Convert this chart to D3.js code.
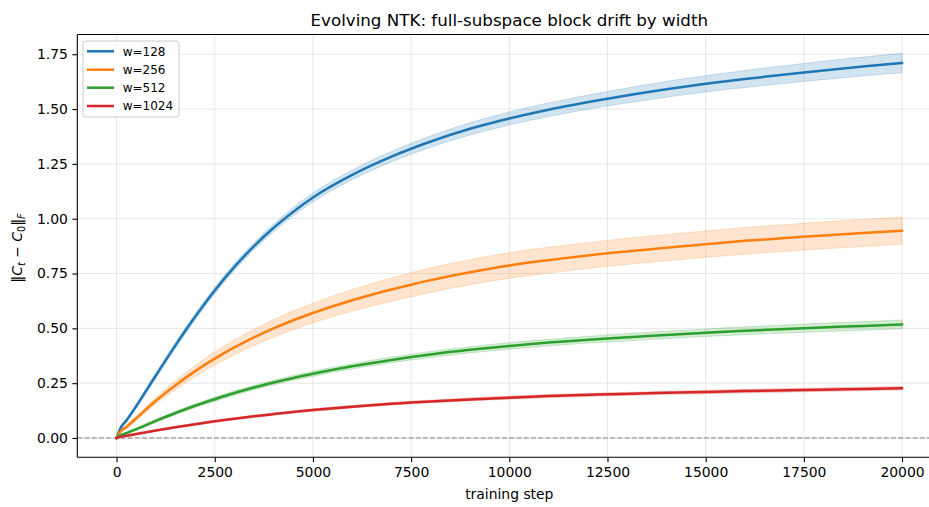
<!DOCTYPE html>
<html>
<head>
<meta charset="utf-8">
<script src="https://cdn.jsdelivr.net/npm/d3@7/dist/d3.min.js"></script>
<style>
  html, body { margin: 0; padding: 0; background: #fff; }
  svg { display: block; font-family: "DejaVu Sans", sans-serif; }
</style>
</head>
<body>
<svg id="chart" width="929" height="507"></svg>
<script>
// Training steps at which the drift was recorded
const steps = [0, 100, 250, 500, 1000, 1500, 2000, 2500, 3000, 3500, 4000, 4500, 5000,
  6000, 7000, 7500, 8000, 9000, 10000, 11000, 12500, 14000, 15000, 16000, 17500, 19000, 20000];

// Mean ||C_t - C_0||_F per width
const w128 = [0, 0.045, 0.08, 0.145, 0.285, 0.4225, 0.5525, 0.6725, 0.78, 0.875, 0.9585, 1.032, 1.097,
  1.2, 1.283, 1.319, 1.352, 1.41, 1.457, 1.497, 1.547, 1.59, 1.615, 1.637, 1.667, 1.694, 1.71];
const w256 = [0, 0.03, 0.05, 0.09, 0.17, 0.241, 0.305, 0.362, 0.413, 0.459, 0.5, 0.537, 0.57,
  0.628, 0.677, 0.699, 0.72, 0.756, 0.787, 0.811, 0.842, 0.868, 0.884, 0.899, 0.918, 0.935, 0.945];
const w512 = [0, 0.012, 0.022, 0.04, 0.078, 0.114, 0.147, 0.177, 0.205, 0.23, 0.253, 0.274, 0.293,
  0.327, 0.356, 0.369, 0.381, 0.402, 0.42, 0.435, 0.454, 0.47, 0.48, 0.489, 0.501, 0.511, 0.518];
const w1024 = [0, 0.005, 0.01, 0.018, 0.034, 0.049, 0.063, 0.076, 0.088, 0.099, 0.109, 0.1185, 0.1275,
  0.143, 0.156, 0.162, 0.167, 0.176, 0.184, 0.191, 0.199, 0.206, 0.21, 0.214, 0.219, 0.224, 0.227];

// Half-width of the shaded spread band per width
const band128 = [0, 0.006, 0.008, 0.01, 0.012, 0.013, 0.014, 0.015, 0.016, 0.017, 0.018, 0.019, 0.02,
  0.022, 0.024, 0.025, 0.026, 0.028, 0.03, 0.031, 0.033, 0.036, 0.037, 0.039, 0.041, 0.043, 0.044];
const band256 = [0, 0.006, 0.008, 0.01, 0.015, 0.02, 0.025, 0.03, 0.034, 0.037, 0.04, 0.043, 0.045,
  0.049, 0.053, 0.055, 0.056, 0.057, 0.058, 0.059, 0.059, 0.06, 0.06, 0.061, 0.061, 0.062, 0.062];
const band512 = [0, 0.004, 0.005, 0.006, 0.007, 0.008, 0.009, 0.01, 0.01, 0.01, 0.011, 0.011, 0.012,
  0.012, 0.013, 0.013, 0.014, 0.014, 0.015, 0.015, 0.016, 0.017, 0.017, 0.018, 0.019, 0.02, 0.02];
const band1024 = [0, 0.003, 0.003, 0.004, 0.004, 0.004, 0.005, 0.005, 0.005, 0.005, 0.005, 0.005, 0.006,
  0.006, 0.006, 0.006, 0.006, 0.007, 0.007, 0.007, 0.007, 0.007, 0.008, 0.008, 0.008, 0.008, 0.008];

const seriesNames = ["w=128", "w=256", "w=512", "w=1024"];
const seriesMeans = [w128, w256, w512, w1024];
const seriesBands = [band128, band256, band512, band1024];
const colors = ["#1f77b4", "#ff7f0e", "#2ca02c", "#d62728"];

const xTicks = [0, 2500, 5000, 7500, 10000, 12500, 15000, 17500, 20000];
const yTicks = [0, 0.25, 0.5, 0.75, 1.0, 1.25, 1.5, 1.75];

const svg = d3.select("#chart");
const plot = { left: 77.3, right: 941.3, top: 34.5, bottom: 457.3 };

const x = d3.scaleLinear().domain([-1000, 21000]).range([plot.left, plot.right]);
const y = d3.scaleLinear().domain([-0.088, 1.840]).range([plot.bottom, plot.top]);

svg.append("defs").append("clipPath").attr("id", "plotclip")
  .append("rect")
  .attr("x", plot.left).attr("y", plot.top)
  .attr("width", plot.right - plot.left).attr("height", plot.bottom - plot.top);

// Grid
const grid = svg.append("g").attr("stroke", "#b0b0b0").attr("stroke-opacity", 0.3).attr("stroke-width", 1);
xTicks.forEach(t => grid.append("line")
  .attr("x1", x(t)).attr("x2", x(t)).attr("y1", plot.top).attr("y2", plot.bottom));
yTicks.forEach(t => grid.append("line")
  .attr("x1", plot.left).attr("x2", plot.right).attr("y1", y(t)).attr("y2", y(t)));

const g = svg.append("g").attr("clip-path", "url(#plotclip)");

// Zero reference
g.append("line")
  .attr("x1", plot.left).attr("x2", plot.right)
  .attr("y1", y(0)).attr("y2", y(0))
  .attr("stroke", "#808080").attr("stroke-width", 1.2)
  .attr("stroke-dasharray", "5,2.2");

const area = d3.area().curve(d3.curveMonotoneX)
  .x(d => x(d.s)).y0(d => y(d.m - d.b)).y1(d => y(d.m + d.b));
const line = d3.line().curve(d3.curveMonotoneX)
  .x(d => x(d.s)).y(d => y(d.m));

seriesMeans.forEach((means, i) => {
  const pts = steps.map((s, k) => ({ s, m: means[k], b: seriesBands[i][k] }));
  g.append("path").datum(pts).attr("d", area)
    .attr("fill", colors[i]).attr("fill-opacity", 0.2)
    .attr("stroke", colors[i]).attr("stroke-opacity", 0.2).attr("stroke-width", 1);
});
seriesMeans.forEach((means, i) => {
  const pts = steps.map((s, k) => ({ s, m: means[k] }));
  g.append("path").datum(pts).attr("d", line)
    .attr("fill", "none").attr("stroke", colors[i]).attr("stroke-width", 2.5)
    .attr("stroke-linecap", "square");
});

// Axes
const xAxis = svg.append("g").attr("transform", `translate(0,${plot.bottom})`)
  .call(d3.axisBottom(x).tickValues(xTicks).tickFormat(d3.format("d")).tickSize(4.9).tickPadding(4.5));
const yAxis = svg.append("g").attr("transform", `translate(${plot.left},0)`)
  .call(d3.axisLeft(y).tickValues(yTicks).tickFormat(d3.format(".2f")).tickSize(4.9).tickPadding(4.5));
[xAxis, yAxis].forEach(a => {
  a.select(".domain").remove();
  a.selectAll(".tick line").attr("stroke", "#000").attr("stroke-width", 1.1);
  a.selectAll(".tick text").attr("fill", "#000").style("font-size", "13.9px")
    .style("font-family", "DejaVu Sans, sans-serif");
});

// Spines (right spine falls beyond the canvas)
const spines = svg.append("g").attr("stroke", "#000").attr("stroke-width", 1.1).attr("fill", "none");
spines.append("line").attr("x1", plot.left).attr("x2", plot.left).attr("y1", plot.top).attr("y2", plot.bottom);
spines.append("line").attr("x1", plot.left).attr("x2", plot.right).attr("y1", plot.bottom).attr("y2", plot.bottom);
spines.append("line").attr("x1", plot.left).attr("x2", plot.right).attr("y1", plot.top).attr("y2", plot.top);
spines.append("line").attr("x1", plot.right).attr("x2", plot.right).attr("y1", plot.top).attr("y2", plot.bottom);

// Title and axis labels
svg.append("text").attr("x", (plot.left + plot.right) / 2).attr("y", 26)
  .attr("text-anchor", "middle").style("font-size", "16.7px").attr("fill", "#000")
  .text("Evolving NTK: full-subspace block drift by width");

svg.append("text").attr("x", (plot.left + plot.right) / 2).attr("y", 499)
  .attr("text-anchor", "middle").style("font-size", "13.9px").attr("fill", "#000")
  .text("training step");

const yl = svg.append("text").attr("transform", "translate(22,248) rotate(-90)")
  .attr("text-anchor", "middle").style("font-size", "13.9px").attr("fill", "#000");
yl.append("tspan").text("\u2016");
yl.append("tspan").style("font-style", "italic").text("C");
yl.append("tspan").style("font-style", "italic").style("font-size", "9.7px").attr("dy", 2.5).text("t");
yl.append("tspan").attr("dy", -2.5).text(" \u2212 ");
yl.append("tspan").style("font-style", "italic").text("C");
yl.append("tspan").style("font-size", "9.7px").attr("dy", 2.5).text("0");
yl.append("tspan").attr("dy", -2.5).text("\u2016");
yl.append("tspan").style("font-style", "italic").style("font-size", "9.7px").attr("dy", 2.5).text("F");

// Legend
const lg = svg.append("g");
lg.append("rect").attr("x", 83).attr("y", 41).attr("width", 96).attr("height", 76)
  .attr("rx", 3).attr("fill", "#fff").attr("fill-opacity", 0.8)
  .attr("stroke", "#cccccc").attr("stroke-width", 1);
const legendY = [51.3, 69.7, 87.7, 106];
seriesNames.forEach((name, i) => {
  lg.append("line").attr("x1", 87).attr("x2", 114).attr("y1", legendY[i]).attr("y2", legendY[i])
    .attr("stroke", colors[i]).attr("stroke-width", 2.5);
  lg.append("text").attr("x", 122.7).attr("y", legendY[i] + 4.3)
    .style("font-size", "12px").attr("fill", "#000").text(name);
});
</script>
</body>
</html>
